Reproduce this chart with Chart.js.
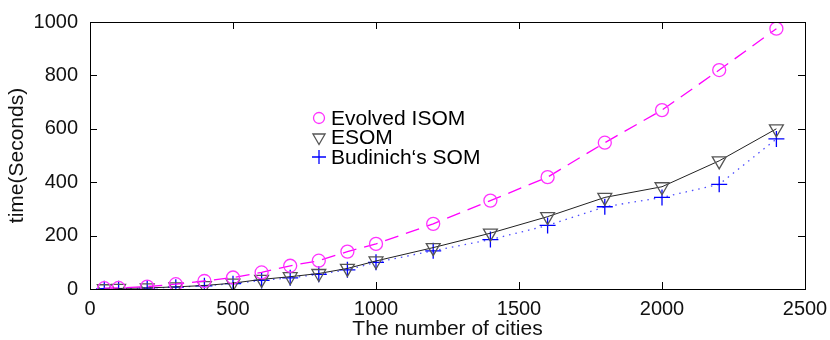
<!DOCTYPE html>
<html>
<head>
<meta charset="utf-8">
<script src="https://cdn.jsdelivr.net/npm/chart.js@4.4.1/dist/chart.umd.min.js"></script>
<style>
    html, body { margin: 0; padding: 0; background: #fff; }
    #wrap { width: 830px; height: 340px; }
</style>
</head>
<body>
<div id="wrap"><canvas id="timeChart" width="830" height="340"></canvas></div>
<script>
const cities = [50, 100, 200, 300, 400, 500, 600, 700, 800, 900, 1000, 1200, 1400, 1600, 1800, 2000, 2200, 2400];
const evolvedIsom = [3, 4, 9, 18, 30, 43, 62, 87, 106, 140, 169, 244, 331, 419, 548, 670, 820, 975];
const esom = [1, 2, 4, 8, 13, 22, 36, 46, 58, 77, 105, 155, 209, 271, 343, 383, 480, 600];
const budinichSom = [1, 1, 3, 7, 12, 20, 32, 42, 55, 72, 100, 143, 185, 238, 308, 343, 392, 562];
const xTicks = [0, 500, 1000, 1500, 2000, 2500];
const yTicks = [0, 200, 400, 600, 800, 1000];
const seriesNames = ['Evolved ISOM', 'ESOM', 'Budinich\u2018s SOM'];

const fontFamily = '"Liberation Sans", Arial, sans-serif';
const toPoints = (values) => cities.map((c, i) => ({ x: c, y: values[i] }));

// box around the plot + inward ticks on all four sides
const frameTicks = {
    id: 'frameTicks',
    afterDraw(chart) {
        const { ctx, chartArea: a, scales: { x, y } } = chart;
        const len = 7;
        ctx.save();
        ctx.strokeStyle = '#000';
        ctx.lineWidth = 1;
        ctx.strokeRect(Math.round(a.left) + 0.5, Math.round(a.top) + 0.5,
            Math.round(a.right - a.left), Math.round(a.bottom - a.top));
        ctx.beginPath();
        xTicks.forEach(v => {
            const px = Math.round(x.getPixelForValue(v)) + 0.5;
            ctx.moveTo(px, a.bottom); ctx.lineTo(px, a.bottom - len);
            ctx.moveTo(px, a.top); ctx.lineTo(px, a.top + len);
        });
        yTicks.forEach(v => {
            const py = Math.round(y.getPixelForValue(v)) + 0.5;
            ctx.moveTo(a.left, py); ctx.lineTo(a.left + len, py);
            ctx.moveTo(a.right, py); ctx.lineTo(a.right - len, py);
        });
        ctx.stroke();
        ctx.restore();
    }
};

// legend inside the plot, markers only
const innerLegend = {
    id: 'innerLegend',
    afterDraw(chart) {
        const { ctx } = chart;
        const x0 = 319, y0 = 118, step = 19.5;
        ctx.save();
        ctx.font = '21px ' + fontFamily;
        ctx.textBaseline = 'middle';
        chart.data.datasets.forEach((ds, i) => {
            const yy = y0 + i * step;
            ctx.strokeStyle = ds.pointBorderColor;
            ctx.fillStyle = 'rgba(0,0,0,0)';
            ctx.lineWidth = ds.pointBorderWidth;
            Chart.helpers.drawPoint(ctx, {
                pointStyle: ds.pointStyle,
                rotation: ds.pointRotation || 0,
                radius: ds.pointRadius - 1,
                borderWidth: ds.pointBorderWidth
            }, x0, yy);
            ctx.fillStyle = '#000';
            ctx.fillText(ds.label, x0 + 12, yy + 1);
        });
        ctx.restore();
    }
};

new Chart(document.getElementById('timeChart'), {
    type: 'line',
    data: {
        datasets: [{
            label: seriesNames[0],
            data: toPoints(evolvedIsom),
            borderColor: '#ff00ff',
            borderWidth: 1.3,
            borderDash: [14, 8],
            pointStyle: 'circle',
            pointRadius: 6.5,
            pointBorderColor: '#ff33ff',
            pointBorderWidth: 1.3,
            pointBackgroundColor: 'rgba(0,0,0,0)',
            fill: false
        }, {
            label: seriesNames[1],
            data: toPoints(esom),
            borderColor: '#222',
            borderWidth: 1,
            pointStyle: 'triangle',
            pointRotation: 180,
            pointRadius: 8,
            pointBorderColor: '#555',
            pointBorderWidth: 1.3,
            pointBackgroundColor: 'rgba(0,0,0,0)',
            fill: false
        }, {
            label: seriesNames[2],
            data: toPoints(budinichSom),
            borderColor: '#4d4dff',
            borderWidth: 1.3,
            borderDash: [1.5, 5],
            pointStyle: 'cross',
            pointRadius: 8,
            pointBorderColor: '#0000ff',
            pointBorderWidth: 1.3,
            pointBackgroundColor: 'rgba(0,0,0,0)',
            fill: false
        }]
    },
    options: {
        responsive: false,
        animation: false,
        layout: { padding: { top: 22, right: 25, left: 0, bottom: 0 } },
        plugins: {
            legend: { display: false },
            tooltip: { enabled: false }
        },
        elements: { line: { tension: 0 } },
        scales: {
            x: {
                type: 'linear',
                min: 0,
                max: 2500,
                afterBuildTicks: (scale) => { scale.ticks = xTicks.map(v => ({ value: v })); },
                ticks: {
                    color: '#111', font: { family: fontFamily, size: 20 }, padding: 0, maxRotation: 0,
                    callback: (v) => String(v)
                },
                grid: { display: false },
                border: { display: false },
                title: {
                    display: true,
                    text: 'The number of cities',
                    color: '#111',
                    font: { family: fontFamily, size: 21 },
                    padding: { top: 0, bottom: -2 }
                },
                afterFit: (scale) => { scale.height = 51; }
            },
            y: {
                min: 0,
                max: 1000,
                afterBuildTicks: (scale) => { scale.ticks = yTicks.map(v => ({ value: v })); },
                ticks: {
                    color: '#111', font: { family: fontFamily, size: 20 }, padding: 4,
                    callback: (v) => String(v)
                },
                grid: { display: false },
                border: { display: false },
                title: {
                    display: true,
                    text: 'time(Seconds)',
                    color: '#111',
                    font: { family: fontFamily, size: 21 },
                    padding: { top: 5, bottom: 0 }
                },
                afterFit: (scale) => { scale.width = 90; }
            }
        }
    },
    plugins: [frameTicks, innerLegend]
});
</script>
</body>
</html>
